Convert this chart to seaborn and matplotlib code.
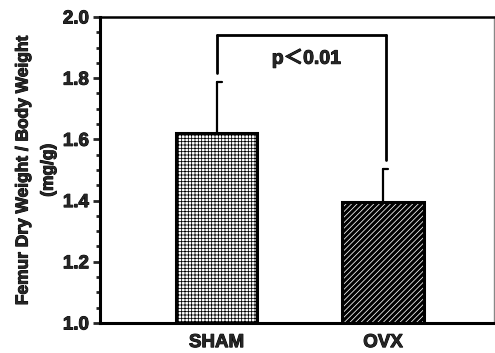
import matplotlib
matplotlib.use("Agg")
import matplotlib.pyplot as plt
import matplotlib.ticker as mtick
import matplotlib.patheffects as pe
from matplotlib.patches import Rectangle
import seaborn as sns
import pandas as pd

groups = ["SHAM", "OVX"]
means = [1.622, 1.394]
sds = [0.166, 0.108]
bracket_top = 1.941
bracket_starts = [1.817, 1.534]
p_text = "p\uff1c0.01"

sns.set_style("white")
plt.rcParams['font.family'] = ['Liberation Sans', 'Noto Sans CJK JP', 'DejaVu Sans']
plt.rcParams['font.weight'] = 'bold'
plt.rcParams['hatch.linewidth'] = 0.55

# heavier strokes, to get close to the black grotesque of the original
heavy = [pe.withStroke(linewidth=0.7, foreground="black")]

df = pd.DataFrame({"group": groups, "value": means})

fig = plt.figure(figsize=(4.95, 3.53), dpi=100)
ax = fig.add_axes([0.202, 0.085, 0.796, 0.867])

sns.barplot(data=df, x="group", y="value", ax=ax, width=0.49,
            color="white", errorbar=None, saturation=1)

ax.set_xlim(-0.70, 1.667)
ax.set_ylim(1.0, 2.0)

# hatching: dotted grid for SHAM, black with white stripes for OVX
styles = [("white", "black", "+++++"), ("black", "white", "//////")]
for patch, (fc, hc, hatch) in zip(ax.patches, styles):
    patch.set_facecolor(fc)
    patch.set_edgecolor(hc)
    patch.set_hatch(hatch)
    patch.set_linewidth(0)
    ax.add_patch(Rectangle(patch.get_xy(), patch.get_width(), patch.get_height(),
                           fill=False, edgecolor="black", linewidth=2.2, zorder=3))

# half-capped error bars
for i, (m, s) in enumerate(zip(means, sds)):
    ax.plot([i, i], [m, m + s], color="black", lw=1.6, zorder=4)
    ax.plot([i, i + 0.03], [m + s, m + s], color="black", lw=1.6, zorder=4)

# significance bracket
legs = [0, 1.02]
for x, y0 in zip(legs, bracket_starts):
    ax.plot([x, x], [y0, bracket_top], color="black", lw=2)
ax.plot(legs, [bracket_top, bracket_top], color="black", lw=2)
ax.text(0.54, 1.865, p_text, ha="center", va="center", fontsize=14,
        fontweight="bold", path_effects=heavy)

ax.yaxis.set_major_locator(mtick.MultipleLocator(0.2))
ax.yaxis.set_minor_locator(mtick.MultipleLocator(0.05))
ax.yaxis.set_major_formatter(mtick.FormatStrFormatter("%.1f"))
ax.tick_params(axis="y", which="major", direction="out", length=5, width=2,
               left=True, labelsize=13.5, pad=3)
ax.tick_params(axis="y", which="minor", direction="out", length=3, width=2, left=True)
ax.tick_params(axis="x", length=0, labelsize=13.5, pad=8)
for lab in ax.get_xticklabels() + ax.get_yticklabels():
    lab.set_fontweight("bold")
    lab.set_path_effects(heavy)

ax.set_xlabel("")
ax.set_ylabel("Femur Dry Weight / Body Weight\n(mg/g)", fontsize=12.5,
              fontweight="bold", labelpad=5, linespacing=1.85, path_effects=heavy)

for side in ["left", "bottom"]:
    ax.spines[side].set_linewidth(2.2)
    ax.spines[side].set_color("black")
ax.spines["top"].set_linewidth(1.8)
ax.spines["top"].set_color("black")
ax.spines["right"].set_linewidth(1)
ax.spines["right"].set_color("#888888")

fig.savefig("out.png", dpi=100)
